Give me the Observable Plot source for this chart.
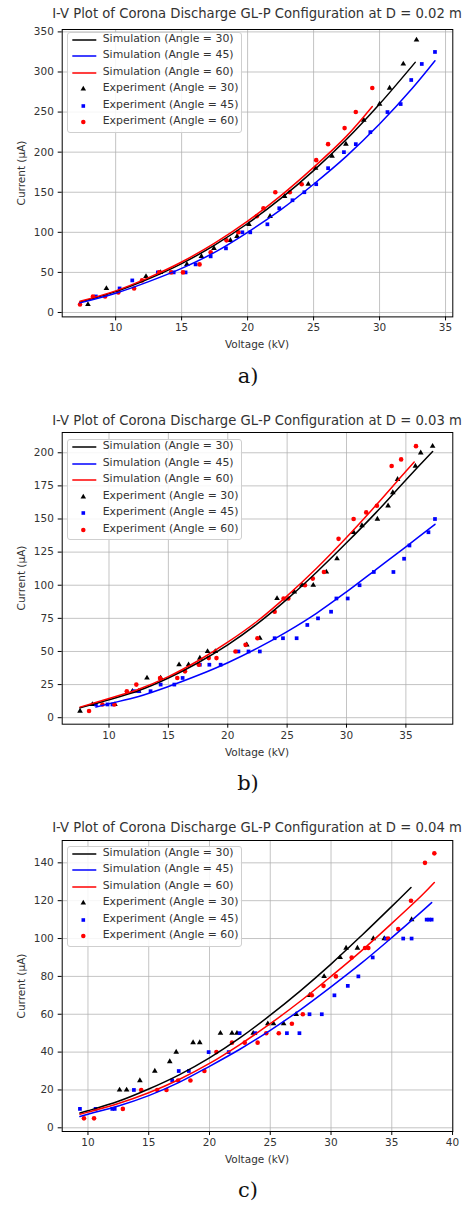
<!DOCTYPE html>
<html><head><meta charset="utf-8">
<script src="https://cdn.jsdelivr.net/npm/d3@7"></script>
<script src="https://cdn.jsdelivr.net/npm/@observablehq/plot@0.6"></script>
<style>
body{margin:0;background:#fff;}
#root{position:relative;width:467px;height:1207px;overflow:hidden;font-family:"DejaVu Sans",sans-serif;color:#333;background:#fff;}
.abs{position:absolute;white-space:nowrap;line-height:1;}
.title{font-size:13.2px;transform:translate(-50%,-50%);}
.xlab{font-size:10.5px;transform:translate(-50%,-50%);}
.ylab{font-size:10.5px;transform:translate(-50%,-50%) rotate(-90deg);}
.cap{font-family:"DejaVu Serif",serif;font-size:21px;color:#111;transform:translate(-50%,-50%);}
.legend{border:1px solid #cfcfcf;border-radius:3px;background:rgba(255,255,255,0.85);box-sizing:border-box;}
.legend .row{position:absolute;left:0;height:14px;transform:translateY(-50%);font-size:10.9px;}
.legend .row svg{position:absolute;left:0;top:0;}
.legend .row span{position:absolute;left:35px;top:1px;}
svg.plot{position:absolute;left:0;overflow:visible;}
</style></head>
<body><div id="root"></div>
<script>
// ---------- Data ----------
const legendLabels = ["Simulation (Angle = 30)","Simulation (Angle = 45)","Simulation (Angle = 60)",
  "Experiment (Angle = 30)","Experiment (Angle = 45)","Experiment (Angle = 60)"];
const seriesColors = ["#000000","#0000ff","#ff0000"];
const seriesSymbols = ["triangle","square","circle"];
const titles = [
  "I-V Plot of Corona Discharge GL-P Configuration at D = 0.02 m",
  "I-V Plot of Corona Discharge GL-P Configuration at D = 0.03 m",
  "I-V Plot of Corona Discharge GL-P Configuration at D = 0.04 m"];
const captions = ["a)","b)","c)"];
const xLabel = "Voltage (kV)";
const yLabel = "Current (\u03bcA)";

// Panel a (D = 0.02 m)
const a_xTicks = [10,15,20,25,30,35];
const a_yTicks = [0,50,100,150,200,250,300,350];
const a_sim30 = [[7.3,13],[10,26],[12.5,42],[15,61],[17.5,84],[20,111],[22.5,142],[25,177],[27.5,216],[30,260],[32.7,312]];
const a_sim45 = [[7.3,12],[10,24],[12.5,38.5],[15,55],[17.5,75],[20,100],[22.5,128],[25,160],[27.5,195],[30,235],[32.5,280],[34.2,314]];
const a_sim60 = [[7.3,14],[10,27],[12.5,43.5],[15,63],[17.5,86.5],[20,114],[22.5,145.5],[25,181],[27.5,220],[29.45,257]];
const a_exp30 = [[7.9,10],[9.3,30],[12.3,45],[13.4,50],[15.4,60],[16.5,70],[17.45,80],[18.7,90],[19.2,95],[20.1,110],[21.7,120],[22.8,145],[24.6,160],[25.15,180],[26.4,195],[27.45,210],[28.8,240],[30.0,260],[30.76,280],[31.8,310],[32.8,340]];
const a_exp45 = [[8.5,20],[10.3,30],[11.26,40],[13.2,50],[14.4,50],[15.3,50],[16.06,60],[17.2,70],[18.36,80],[19.6,100],[20.2,100],[21.5,110],[22.4,130],[23.4,140],[24.3,150],[25.2,160],[26.1,180],[27.3,200],[28.2,210],[29.3,225],[30.6,250],[31.6,260],[32.4,290],[33.2,310],[34.2,325]];
const a_exp60 = [[7.3,10],[8.28,20],[9.2,20],[10.2,25],[11.4,30],[12.0,40],[13.3,50],[14.2,50],[15.1,50],[16.36,60],[17.2,75],[18.4,90],[19.3,100],[20.7,120],[21.2,130],[22.1,150],[23.2,150],[24.1,160],[25.2,190],[26.1,210],[27.35,230],[28.2,250],[29.45,280]];

// Panel b (D = 0.03 m)
const b_xTicks = [10,15,20,25,30,35];
const b_yTicks = [0,25,50,75,100,125,150,175,200];
const b_sim30 = [[7.56,7.5],[10,13.5],[12.5,20.5],[15,30],[17.5,41.5],[20,55],[22.5,71],[25,89.5],[27.5,110],[30,132],[32.5,155],[35,179.5],[37.25,201]];
const b_sim45 = [[8.9,8],[10,10.5],[12.5,16],[15,23.5],[17.5,32],[20,41.5],[22.5,52.5],[25,65],[27.5,79],[30,95],[32.5,112],[35,129],[37.45,146]];
const b_sim60 = [[7.56,8],[10,14.5],[12.5,21.5],[15,31],[17.5,43],[20,57],[22.5,73],[25,92],[27.5,113],[30,136],[32.5,160.5],[35,186],[35.7,193]];
const b_exp30 = [[7.56,5],[8.6,10],[10.5,10],[11.97,20],[12.5,20],[13.2,30],[14.35,30],[15.9,40],[16.7,40],[17.65,45],[18.3,50],[18.95,50],[21.6,55],[22.7,60],[24.15,90],[25.6,95],[26.25,100],[27.2,100],[28.3,110],[29.2,120],[30.6,140],[31.3,145],[32.6,150],[33.5,160],[33.9,170],[34.3,180],[35.8,190],[36.25,200],[37.25,205]];
const b_exp45 = [[8.9,10],[9.87,10],[10.29,10],[12.1,20],[12.5,20],[13.5,20],[14.35,25],[15.5,25],[16.2,30],[17.65,40],[18.45,40],[19.4,40],[20.9,50],[21.75,50],[22.7,50],[23.95,60],[24.65,60],[25.8,60],[26.7,70],[27.6,75],[28.7,80],[29.15,90],[30.1,90],[31.1,100],[32.3,110],[33.95,110],[34.85,120],[35.3,130],[36.9,140],[37.45,150]];
const b_exp60 = [[8.32,5],[9.45,10],[10.45,10],[11.5,20],[12.3,25],[14.3,30],[15.75,30],[16.4,35],[17.56,40],[18.4,45],[19.05,45],[20.65,50],[21.5,55],[22.5,60],[23.95,80],[24.7,90],[25.1,90],[26.5,100],[27.16,105],[28.1,110],[29.33,135],[30.6,150],[31.66,155],[32.56,160],[33.8,190],[34.6,195],[35.85,205]];

// Panel c (D = 0.04 m)
const c_xTicks = [10,15,20,25,30,35,40];
const c_yTicks = [0,20,40,60,80,100,120,140];
const c_sim30 = [[9.34,7.8],[10,9],[12.5,14],[15,20.5],[17.5,28],[20,37],[22.5,47.5],[25,59.5],[27.5,72.5],[30,86.5],[32.5,101.5],[35,117],[36.58,127]];
const c_sim45 = [[9.34,6],[10,7.2],[12.5,11.5],[15,17],[17.5,24],[20,32.5],[22.5,41.5],[25,51.5],[27.5,62.5],[30,74.5],[32.5,87],[35,100.5],[37.5,114.5],[38.28,119]];
const c_sim60 = [[9.34,7.2],[10,8.3],[12.5,12.8],[15,18.5],[17.5,25.5],[20,34],[22.5,44],[25,55],[27.5,67],[30,80],[32.5,93.5],[35,108],[37.5,123],[38.5,129.6]];
const c_exp30 = [[12.6,20],[13.18,20],[14.27,25],[15.5,30],[16.73,35],[17.26,40],[18.65,45],[19.2,45],[20.9,50],[21.85,50],[22.26,50],[23.6,50],[24.8,55],[25.27,55],[26.1,55],[27.13,60],[28.23,70],[29.43,80],[30.75,90],[31.24,95],[32.17,95],[33.48,100],[34.38,100],[36.63,110]];
const c_exp45 = [[9.34,10],[10.63,10],[12.0,10],[12.2,10],[13.78,20],[16.93,25],[17.47,30],[18.3,30],[19.93,40],[21.58,40],[22.48,50],[23.77,50],[26.37,50],[27.4,50],[28.23,60],[29.24,60],[30.28,70],[31.38,75],[32.25,80],[33.43,90],[34.5,100],[35.94,100],[36.63,100],[37.87,110],[38.08,110],[38.28,110]];
const c_exp60 = [[9.67,5],[10.5,5],[12.87,10],[14.38,20],[15.7,20],[16.46,20],[17.42,25],[18.43,25],[19.58,30],[20.57,40],[21.85,45],[22.9,45],[23.96,45],[24.67,50],[25.7,50],[26.78,55],[27.68,60],[28.42,70],[29.38,75],[30.4,80],[31.7,90],[32.8,95],[33.07,95],[34.7,100],[35.53,105],[36.58,120],[37.73,140],[38.5,145]];

// ---------- Layout ----------
const panels = [
  {title:titles[0], cap:captions[0], xTicks:a_xTicks, yTicks:a_yTicks, sims:[a_sim30,a_sim45,a_sim60], exps:[a_exp30,a_exp45,a_exp60],
   xDomain:[5.95,35.55], yDomain:[-5.5,353], frameTop:29.3, frameBottom:316.7, titleY:14, xlabY:344.3, capY:376, legendTop:31.7},
  {title:titles[1], cap:captions[1], xTicks:b_xTicks, yTicks:b_yTicks, sims:[b_sim30,b_sim45,b_sim60], exps:[b_exp30,b_exp45,b_exp60],
   xDomain:[6.06,38.95], yDomain:[-4.9,215.3], frameTop:432.3, frameBottom:724, titleY:420.7, xlabY:752.3, capY:783, legendTop:439},
  {title:titles[2], cap:captions[2], xTicks:c_xTicks, yTicks:c_yTicks, sims:[c_sim30,c_sim45,c_sim60], exps:[c_exp30,c_exp45,c_exp60],
   xDomain:[7.88,40.02], yDomain:[-1.95,151.8], frameTop:840, frameBottom:1131, titleY:828.3, xlabY:1159, capY:1190, legendTop:845.7}
];

const root = document.getElementById("root");
const W = 467, ML = 61.7, MR = 14.7, MT = 10, MB = 24;
const frameCX = (ML + (W - MR)) / 2;

function addText(cls, txt, x, y) {
  const d = document.createElement("div");
  d.className = "abs " + cls;
  d.textContent = txt;
  d.style.left = x + "px";
  d.style.top = y + "px";
  root.appendChild(d);
  return d;
}

const sx = d => d[0], sy = d => d[1];

panels.forEach(p => {
  const fh = p.frameBottom - p.frameTop;
  const marks = [
    Plot.gridX(p.xTicks, {stroke:"#b0b0b0", strokeOpacity:0.75, strokeWidth:1}),
    Plot.gridY(p.yTicks, {stroke:"#b0b0b0", strokeOpacity:0.75, strokeWidth:1}),
  ];
  p.exps.forEach((e, i) => {
    marks.push(Plot.dot(e, {x:sx, y:sy, symbol:seriesSymbols[i], r: i===2 ? 2.3 : 2.1, fill:seriesColors[i], stroke:"none"}));
  });
  p.sims.forEach((s, i) => {
    marks.push(Plot.line(s, {x:sx, y:sy, stroke:seriesColors[i], strokeWidth:1.5, curve:"catmull-rom"}));
  });
  marks.push(Plot.frame({stroke:"#000", strokeWidth:1}));
  marks.push(Plot.axisX(p.xTicks, {tickSize:4, tickPadding:3, fontSize:10.5, label:null, fill:"#333", stroke:"#000"}));
  marks.push(Plot.axisY(p.yTicks, {tickSize:4, tickPadding:4.4, fontSize:10.5, label:null, fill:"#333", stroke:"#000"}));
  const svg = Plot.plot({
    width: W, height: fh + MT + MB,
    marginLeft: ML, marginRight: MR, marginTop: MT, marginBottom: MB,
    x: {domain: p.xDomain}, y: {domain: p.yDomain},
    style: {fontFamily:"DejaVu Sans, sans-serif", fontSize:"10.5px", background:"transparent", overflow:"visible"},
    marks
  });
  svg.classList.add("plot");
  svg.style.top = (p.frameTop - MT) + "px";
  root.appendChild(svg);

  addText("title", p.title, frameCX, p.titleY);
  addText("xlab", xLabel, frameCX, p.xlabY);
  addText("ylab", yLabel, 21, (p.frameTop + p.frameBottom) / 2);
  addText("cap", p.cap, 248, p.capY);

  // legend
  const lg = document.createElement("div");
  lg.className = "abs legend";
  lg.style.left = "66.7px"; lg.style.top = p.legendTop + "px";
  lg.style.width = "175.6px"; lg.style.height = "101px";
  legendLabels.forEach((lab, k) => {
    const row = document.createElement("div");
    row.className = "row";
    row.style.top = (8.3 + 16.5 * k - 1) + "px";
    row.style.width = "170px";
    const ns = "http://www.w3.org/2000/svg";
    const s = document.createElementNS(ns, "svg");
    s.setAttribute("width", "32"); s.setAttribute("height", "14");
    const ci = k % 3;
    if (k < 3) {
      const l = document.createElementNS(ns, "line");
      l.setAttribute("x1", "4.3"); l.setAttribute("x2", "28.3");
      l.setAttribute("y1", "7"); l.setAttribute("y2", "7");
      l.setAttribute("stroke", seriesColors[ci]); l.setAttribute("stroke-width", "1.5");
      s.appendChild(l);
    } else {
      const sym = d3.symbol().type(ci===0 ? d3.symbolTriangle : ci===1 ? d3.symbolSquare : d3.symbolCircle)
        .size(ci===2 ? 16 : 13);
      const path = document.createElementNS(ns, "path");
      path.setAttribute("d", sym());
      path.setAttribute("transform", "translate(15.3,7)");
      path.setAttribute("fill", seriesColors[ci]);
      s.appendChild(path);
    }
    row.appendChild(s);
    const t = document.createElement("span");
    t.textContent = lab;
    row.appendChild(t);
    lg.appendChild(row);
  });
  root.appendChild(lg);
});
</script></body></html>
